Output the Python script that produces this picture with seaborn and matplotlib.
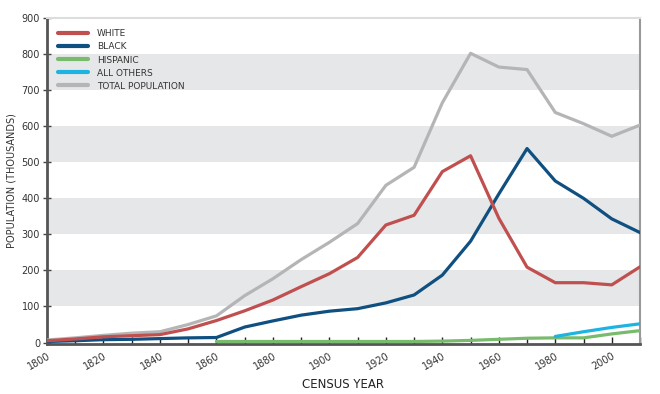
import numpy as np
import pandas as pd
import matplotlib
matplotlib.use("Agg")
import matplotlib.pyplot as plt
from matplotlib import font_manager
import seaborn as sns

years = list(range(1800, 2011, 10))
white = [5, 10, 16, 19, 22, 38, 61, 88, 118, 155, 191, 236, 326, 353, 474, 518, 345, 209, 166, 166, 160, 210]
black = [3, 5, 8, 9, 11, 13, 14, 43, 60, 76, 87, 94, 110, 132, 187, 281, 412, 538, 448, 400, 343, 305]
hisp_years = list(range(1860, 2011, 10))
hispanic = [3, 3, 3, 3, 3, 3, 3, 3, 4, 6, 9, 12, 13, 13, 24, 33]
other_years = [1980, 1990, 2000, 2010]
all_others = [17, 30, 42, 52]
total = [7, 13, 20, 26, 30, 50, 74, 130, 177, 230, 278, 330, 436, 486, 665, 802, 764, 757, 638, 607, 572, 603]

series_names = ["WHITE", "BLACK", "HISPANIC", "ALL OTHERS", "TOTAL POPULATION"]
colors = ["#c0504f", "#0f5080", "#79bb6c", "#1eb4e2", "#b5b5b7"]
y_ticks = list(range(0, 901, 100))
x_ticks = list(range(1800, 2001, 20))

frames = [
    pd.DataFrame({"year": years, "value": white, "series": "WHITE"}),
    pd.DataFrame({"year": years, "value": black, "series": "BLACK"}),
    pd.DataFrame({"year": hisp_years, "value": hispanic, "series": "HISPANIC"}),
    pd.DataFrame({"year": other_years, "value": all_others, "series": "ALL OTHERS"}),
    pd.DataFrame({"year": years, "value": total, "series": "TOTAL POPULATION"}),
]
df = pd.concat(frames, ignore_index=True)

sns.set_style("white")
available = {f.name for f in font_manager.fontManager.ttflist}
fams = [f for f in ["Liberation Sans Narrow", "DejaVu Sans Condensed"] if f in available] + ["DejaVu Sans"]
plt.rcParams["font.family"] = fams

fig = plt.figure(figsize=(6.6, 3.94), dpi=100)
ax = fig.add_axes([47/660, 1-344/394, 593/660, (344-18)/394])

# alternating gray bands
for lo in range(100, 900, 200):
    ax.axhspan(lo, lo + 100, color="#e6e7e8", zorder=0, lw=0)

draw_order = ["TOTAL POPULATION", "HISPANIC", "ALL OTHERS", "BLACK", "WHITE"]
pal = dict(zip(series_names, colors))
for name in draw_order:
    sub = df[df["series"] == name]
    sns.lineplot(data=sub, x="year", y="value", color=pal[name], lw=2.3,
                 ax=ax, legend=False, zorder=3)

from matplotlib.lines import Line2D
handles = [Line2D([0], [0], color=c, lw=3) for c in colors]
leg = ax.legend(handles, series_names, loc="upper left", bbox_to_anchor=(0.005, 0.99),
                frameon=False, fontsize=6.5, handlelength=3.3, handletextpad=1.0,
                labelspacing=0.45)
for t in leg.get_texts():
    t.set_color("#333333")

ax.set_xlim(1800, 2010)
ax.set_ylim(-4, 900)
ax.set_yticks(y_ticks)
ax.set_xticks(x_ticks)
ax.set_xticks(list(range(1800, 2011, 10)), minor=True)
ax.tick_params(axis="y", direction="inout", length=6, width=1, color="#444444",
               labelsize=7, labelcolor="#333333", pad=2, left=True)
ax.tick_params(axis="x", which="both", direction="in", length=5, width=1, color="#222222",
               labelsize=7, labelcolor="#333333", pad=5, bottom=True)
for lab in ax.get_xticklabels():
    lab.set_rotation(30)
    lab.set_ha("right")
    lab.set_rotation_mode("anchor")

ax.set_xlabel("CENSUS YEAR", fontsize=8.5, color="#222222")
ax.set_ylabel("POPULATION (THOUSANDS)", fontsize=7, color="#333333")
ax.xaxis.set_label_coords(0.5, -0.105)
ax.yaxis.set_label_coords(-0.052, 0.5)

for side in ["left", "bottom"]:
    ax.spines[side].set_color("#555555")
    ax.spines[side].set_linewidth(2)
ax.spines["top"].set_color("#dddddd")
ax.spines["top"].set_linewidth(1.5)
ax.spines["right"].set_color("#999999")
ax.spines["right"].set_linewidth(1.5)
ax.set_facecolor("white")

fig.savefig("out.png", dpi=100)
